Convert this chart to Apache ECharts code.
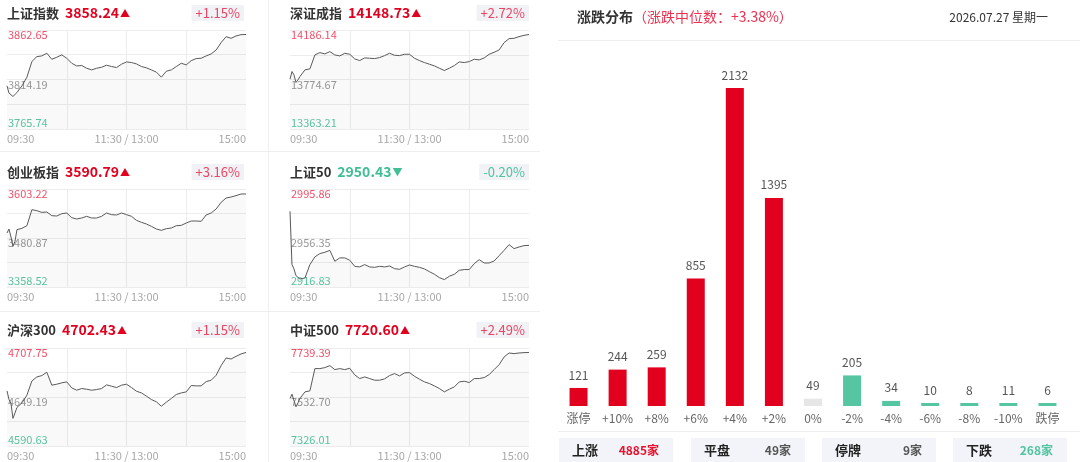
<!DOCTYPE html>
<html><head><meta charset="utf-8">
<script src="https://cdn.jsdelivr.net/npm/echarts@6/dist/echarts.min.js"></script>
<style>html,body{margin:0;padding:0;background:#fff}#c{width:1080px;height:462px}</style>
</head><body><div id="c"></div>
<script>
// ---------- data ----------
const minutes = [0,2,4,6,8,10,15,20,25,30,35,40,45,50,55,60,65,70,75,80,85,90,95,100,105,110,115,120,125,130,135,140,145,150,155,160,165,170,175,180,185,190,195,200,205,210,215,220,225,230,235,240];
const xTickValues = [0,120,240];
const xTickLabels = ['09:30','11:30 / 13:00','15:00'];

const indexNames = ['上证指数','深证成指','创业板指','上证50','沪深300','中证500'];
const indexLast  = ['3858.24','14148.73','3590.79','2950.43','4702.43','7720.60'];
const indexPct   = ['+1.15%','+2.72%','+3.16%','-0.20%','+1.15%','+2.49%'];
const indexUp    = [true,true,true,false,true,true];

const shTicks  = [3765.74,3789.9675,3814.195,3838.4225,3862.65];
const szTicks  = [13363.21,13568.9425,13774.675,13980.4075,14186.14];
const cyTicks  = [3358.52,3419.695,3480.87,3542.045,3603.22];
const sz50Ticks= [2916.83,2936.5875,2956.345,2976.1025,2995.86];
const hsTicks  = [4590.63,4619.91,4649.19,4678.47,4707.75];
const zzTicks  = [7326.01,7429.355,7532.70,7636.045,7739.39];

const shTickLabels   = ['3765.74','','3814.19','','3862.65'];
const szTickLabels   = ['13363.21','','13774.67','','14186.14'];
const cyTickLabels   = ['3358.52','','3480.87','','3603.22'];
const sz50TickLabels = ['2916.83','','2956.35','','2995.86'];
const hsTickLabels   = ['4590.63','','4649.19','','4707.75'];
const zzTickLabels   = ['7326.01','','7532.70','','7739.39'];

const shValues = [3808.0,3800.9,3802.5,3797.6,3797.0,3801.5,
 3808.0,3816.5,3831.8,3836.6,3837.3,3839.9,3834.0,3836.0,3838.3,3835.0,
 3830.1,3827.5,3827.9,3825.2,3823.6,3825.2,3826.2,3828.2,3826.9,3825.9,
 3829.2,3831.4,3830.8,3829.5,3826.9,3825.6,3823.6,3821.4,3816.5,3822.3,
 3823.6,3826.9,3830.1,3828.5,3832.7,3834.7,3835.0,3837.3,3839.2,3843.1,
 3850.3,3856.1,3854.5,3856.8,3858.1,3858.24];
const szValues = [13777.4,13840.9,13813.3,13749.8,13771.9,13799.5,
 13854.7,13863.0,13979.0,13998.3,13987.3,14006.6,13979.0,13970.7,13992.8,13984.5,
 13945.9,13932.0,13954.1,13951.4,13948.6,13956.9,13973.5,13992.8,13976.2,13973.5,
 13984.5,13984.5,13951.4,13932.0,13915.5,13901.7,13887.9,13868.5,13849.2,13868.5,
 13890.6,13921.0,13915.5,13923.8,13943.1,13937.6,13954.1,13984.5,14001.1,14020.4,
 14081.2,14114.3,14117.1,14130.9,14141.9,14148.73];
const cyValues = [3493.3,3503.3,3483.3,3460.0,3472.5,3501.7,
 3505.0,3511.6,3551.6,3549.1,3544.9,3545.8,3536.6,3535.8,3541.6,3543.3,
 3531.6,3528.3,3530.8,3535.0,3530.8,3530.8,3535.0,3543.3,3539.1,3538.3,
 3543.3,3539.1,3535.0,3525.0,3520.0,3515.8,3510.0,3503.3,3500.0,3504.2,
 3505.8,3511.6,3512.5,3518.3,3523.3,3523.3,3522.5,3538.3,3543.3,3553.3,
 3569.9,3580.7,3583.2,3586.6,3590.7,3590.79];
const sz50Values = [2977.9,2934.9,2931.4,2926.0,2924.9,2923.3,
 2924.1,2934.9,2941.1,2943.8,2944.8,2946.4,2937.6,2940.3,2940.3,2938.4,
 2933.5,2933.0,2934.9,2933.0,2932.7,2933.5,2933.0,2933.8,2931.6,2931.1,
 2933.0,2934.6,2933.5,2932.7,2931.4,2929.2,2927.1,2924.4,2922.8,2925.5,
 2927.1,2930.3,2930.9,2930.9,2935.7,2938.9,2936.2,2936.2,2937.8,2942.1,
 2946.4,2951.0,2947.8,2949.1,2950.2,2950.43];
const hsValues = [4656.5,4646.2,4641.4,4623.6,4621.6,4636.7,
 4642.2,4651.4,4668.4,4673.2,4674.8,4678.8,4663.3,4664.5,4666.1,4667.3,
 4660.1,4657.3,4659.3,4658.5,4657.3,4658.1,4659.3,4663.7,4662.1,4660.5,
 4663.3,4664.5,4660.5,4656.1,4654.1,4650.2,4646.2,4643.4,4638.2,4643.0,
 4647.4,4652.2,4654.1,4655.3,4662.9,4662.5,4662.5,4667.6,4669.2,4675.2,
 4686.7,4695.8,4694.6,4697.8,4700.6,4702.43];
const zzValues = [7526.4,7544.6,7540.4,7491.4,7508.2,7526.4,
 7554.4,7558.6,7652.5,7652.5,7656.7,7665.1,7648.3,7652.5,7648.3,7653.9,
 7625.9,7610.5,7617.5,7610.5,7603.5,7603.5,7609.1,7623.1,7631.5,7621.7,
 7634.3,7635.7,7620.3,7607.7,7596.5,7589.5,7579.7,7568.4,7554.4,7565.6,
 7575.4,7596.5,7599.3,7593.7,7610.5,7610.5,7614.7,7627.3,7648.3,7669.3,
 7701.6,7718.4,7715.6,7718.4,7719.8,7720.60];

const barCategories = ['涨停','+10%','+8%','+6%','+4%','+2%','0%','-2%','-4%','-6%','-8%','-10%','跌停'];
const barValues = [121,244,259,855,2132,1395,49,205,34,10,8,11,6];
const barKinds  = ['up','up','up','up','up','up','flat','down','down','down','down','down','down'];

const titleMain = '涨跌分布';
const titleMedian = '（涨跌中位数：+3.38%）';
const titleDate = '2026.07.27 星期一';

const summaryLabels = ['上涨','平盘','停牌','下跌'];
const summaryValues = ['4885家','49家','9家','268家'];
const summaryKinds  = ['up','flat','flat','down'];

// ---------- layout / style ----------
const FONT = '"Noto Sans CJK SC","Noto Sans",sans-serif';
const RED = '#e2001f', GREEN = '#3fbf92', GREY = '#e6e6e6';
const seriesValues = [shValues,szValues,cyValues,sz50Values,hsValues,zzValues];
const tickValues = [shTicks,szTicks,cyTicks,sz50Ticks,hsTicks,zzTicks];
const tickLabels = [shTickLabels,szTickLabels,cyTickLabels,sz50TickLabels,hsTickLabels,zzTickLabels];
const cells = [
  {left:7,   top:30,  h:99, ty:13,  right:244},
  {left:290, top:30,  h:99, ty:13,  right:529},
  {left:7,   top:189, h:98, ty:172, right:244},
  {left:290, top:189, h:98, ty:172, right:529},
  {left:7,   top:348, h:98, ty:330, right:244},
  {left:290, top:348, h:98, ty:330, right:529}
];

const grids = [], xAxes = [], yAxes = [], series = [], graphics = [];

cells.forEach((c, i) => {
  grids.push({left:c.left, top:c.top, width:239, height:c.h});
  xAxes.push({
    type:'value', gridIndex:i, min:0, max:240, interval:60,
    axisLine:{show:false}, axisTick:{show:false},
    splitLine:{show:true, showMinLine:false, showMaxLine:false, lineStyle:{color:'#ececec', width:1}},
    axisLabel:{
      customValues:xTickValues, color:'#a8a8a8', fontSize:11, fontFamily:FONT, margin:4,
      alignMinLabel:'left', alignMaxLabel:'right',
      formatter:(v)=>{ const k = xTickValues.indexOf(v); return k>=0 ? xTickLabels[k] : ''; }
    }
  });
  const tv = tickValues[i], tl = tickLabels[i];
  yAxes.push({
    type:'value', gridIndex:i, min:tv[0], max:tv[4], scale:true,
    axisLine:{show:false},
    axisTick:{show:false, customValues:tv},
    splitLine:{show:true, lineStyle:{color:'#ececec', width:1}},
    axisLabel:{
      inside:true, margin:1, verticalAlign:'middle',
      customValues:[tv[0], tv[2], tv[4]],
      formatter:(v)=>{
        let k = -1;
        tv.forEach((t,j)=>{ if (Math.abs(t-v) < 1e-6) k = j; });
        if (k === 4) return '{t|' + tl[4] + '}';
        if (k === 2) return '{m|' + tl[2] + '}';
        if (k === 0) return '{b|' + tl[0] + '}';
        return '';
      },
      rich:{
        t:{color:'#f0506a', fontSize:11, fontFamily:FONT, padding:[10,0,0,0]},
        m:{color:'#999999', fontSize:11, fontFamily:FONT, padding:[10,0,0,0]},
        b:{color:'#5cc8a5', fontSize:11, fontFamily:FONT, padding:[0,0,13,0]}
      }
    }
  });
  series.push({
    type:'line', xAxisIndex:i, yAxisIndex:i, showSymbol:false, symbol:'none',
    silent:true, animation:false,
    lineStyle:{color:'#5a5a5a', width:1},
    areaStyle:{color:'rgba(0,0,0,0.03)', origin:'start'},
    data: minutes.map((m, j) => [m, seriesValues[i][j]])
  });
  const up = indexUp[i];
  graphics.push({
    type:'text', x:c.left, y:c.ty, silent:true,
    style:{
      text:'{n|' + indexNames[i] + '}{v|' + indexLast[i] + '}{a|' + (up ? '▲' : '▼') + '}',
      verticalAlign:'middle', align:'left',
      rich:{
        n:{fontSize:13, fontWeight:'bold', fill:'#333', fontFamily:FONT, padding:[0,6,0,0]},
        v:{fontSize:14, fontWeight:'bold', fill: up ? RED : GREEN, fontFamily:FONT},
        a:{fontSize:10, fill: up ? RED : GREEN, fontFamily:FONT, padding:[1,0,0,1]}
      }
    }
  });
  graphics.push({
    type:'text', x:c.right, y:c.ty, silent:true,
    style:{
      text:indexPct[i], align:'right', verticalAlign:'middle',
      fontSize:13, fontFamily:FONT, fill: up ? '#ec4563' : '#4fc49d',
      backgroundColor:'#f1f2f6', padding:[2,4,1,4]
    }
  });
});

// separators on the left panel
graphics.push({type:'line', silent:true, shape:{x1:268.5,y1:0,x2:268.5,y2:462}, style:{stroke:'#eeeeee', lineWidth:1}});
graphics.push({type:'line', silent:true, shape:{x1:0,y1:151.5,x2:540,y2:151.5}, style:{stroke:'#eeeeee', lineWidth:1}});
graphics.push({type:'line', silent:true, shape:{x1:0,y1:311.5,x2:540,y2:311.5}, style:{stroke:'#eeeeee', lineWidth:1}});

// right panel header
graphics.push({
  type:'text', x:577, y:17, silent:true,
  style:{
    text:'{a|' + titleMain + '}{b|' + titleMedian + '}', verticalAlign:'middle',
    rich:{
      a:{fontSize:14, fontWeight:'bold', fill:'#333', fontFamily:FONT},
      b:{fontSize:14, fill:'#ee3050', fontFamily:FONT}
    }
  }
});
graphics.push({type:'text', x:1048, y:17, silent:true,
  style:{text:titleDate, align:'right', verticalAlign:'middle', fontSize:12, fill:'#333', fontFamily:FONT}});
graphics.push({type:'line', silent:true, shape:{x1:558,y1:40.5,x2:1080,y2:40.5}, style:{stroke:'#eeeeee', lineWidth:1}});
graphics.push({type:'line', silent:true, shape:{x1:558,y1:431.5,x2:1080,y2:431.5}, style:{stroke:'#eeeeee', lineWidth:1}});

// summary boxes
const boxX = [559, 691, 822, 953];
summaryLabels.forEach((lab, k) => {
  const x = boxX[k];
  graphics.push({type:'rect', silent:true, shape:{x:x, y:438, width:114, height:26}, style:{fill:'#f3f4f9'}});
  graphics.push({type:'text', x:x+13, y:450, silent:true,
    style:{text:lab, verticalAlign:'middle', fontSize:13, fontWeight:'bold', fill:'#222', fontFamily:FONT}});
  const kind = summaryKinds[k];
  graphics.push({type:'text', x:x+100, y:450, silent:true,
    style:{text:summaryValues[k], align:'right', verticalAlign:'middle', fontSize:12, fontWeight:'bold',
      fill: kind==='up' ? '#e8102d' : (kind==='down' ? '#52c4a0' : '#555'), fontFamily:FONT}});
});

// bar chart
grids.push({left:559, right:13, top:88, bottom:56});
xAxes.push({
  type:'category', gridIndex:6, data:barCategories,
  axisLine:{show:false}, axisTick:{show:false},
  axisLabel:{color:'#666', fontSize:12, fontFamily:FONT, margin:6, interval:0}
});
yAxes.push({type:'value', gridIndex:6, min:0, max:2132, show:false, splitLine:{show:false}});
series.push({
  type:'bar', xAxisIndex:6, yAxisIndex:6, barWidth:18, barMinHeight:3, silent:true, animation:false,
  label:{show:true, position:'top', color:'#555', fontSize:12, fontFamily:FONT, distance:7},
  data: barValues.map((v, j) => ({
    value:v,
    itemStyle:{color: barKinds[j]==='up' ? RED : (barKinds[j]==='flat' ? GREY : '#56c5a2')}
  }))
});

const chart = echarts.init(document.getElementById('c'));
chart.setOption({
  animation:false,
  backgroundColor:'#fff',
  textStyle:{fontFamily:FONT},
  grid:grids, xAxis:xAxes, yAxis:yAxes, series:series,
  graphic:{elements:graphics}
});
</script>
</body></html>
